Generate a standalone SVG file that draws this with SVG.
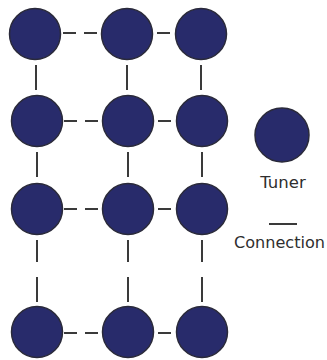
<svg xmlns="http://www.w3.org/2000/svg" width="327" height="360" viewBox="0 0 327 360">
<style>
.t{fill:#282b6b;stroke:#2a2a3a;stroke-width:1.5}
.c{stroke:#3a3a3a;stroke-width:2;fill:none}
.l{font-family:"DejaVu Sans",sans-serif;font-size:16px;fill:#2e2e2e}
</style>
<rect width="327" height="360" fill="#fff"/>
<g id="connectors">
<path class="c" d="M63 33H76M84 33H97M157 33H170M64 121H77M85 121H98M158 121H171M64 209H77M85 209H98M158 209H171M64 333H77M85 333H98M158 333H171"/>
<path class="c" d="M36 65V90M127 65V90M201 65V90M37 152V177M128 152V177M202 152V177M37 240V262M37 277V302M128 240V262M128 277V302M202 240V262M202 277V302"/>
<path class="c" d="M269 224H297"/>
</g>
<g id="n11"><circle class="t" cx="35" cy="34" r="25.5"/></g>
<g id="n12"><circle class="t" cx="127" cy="34" r="25.5"/></g>
<g id="n13"><circle class="t" cx="201" cy="34" r="25.5"/></g>
<g id="n21"><circle class="t" cx="37" cy="121" r="25.5"/></g>
<g id="n22"><circle class="t" cx="128" cy="121" r="25.5"/></g>
<g id="n23"><circle class="t" cx="202" cy="121" r="25.5"/></g>
<g id="n31"><circle class="t" cx="37" cy="209" r="25.5"/></g>
<g id="n32"><circle class="t" cx="128" cy="209" r="25.5"/></g>
<g id="n33"><circle class="t" cx="202" cy="209" r="25.5"/></g>
<g id="n41"><circle class="t" cx="37" cy="332" r="25.5"/></g>
<g id="n42"><circle class="t" cx="128" cy="332" r="25.5"/></g>
<g id="n43"><circle class="t" cx="202" cy="332" r="25.5"/></g>
<g id="legend">
<circle class="t" cx="282" cy="135" r="27"/>
<text class="l" x="283" y="188" text-anchor="middle" style="font-size:16.5px">Tuner</text>
<text class="l" x="234" y="248" textLength="91" lengthAdjust="spacingAndGlyphs">Connection</text>
</g>
</svg>
